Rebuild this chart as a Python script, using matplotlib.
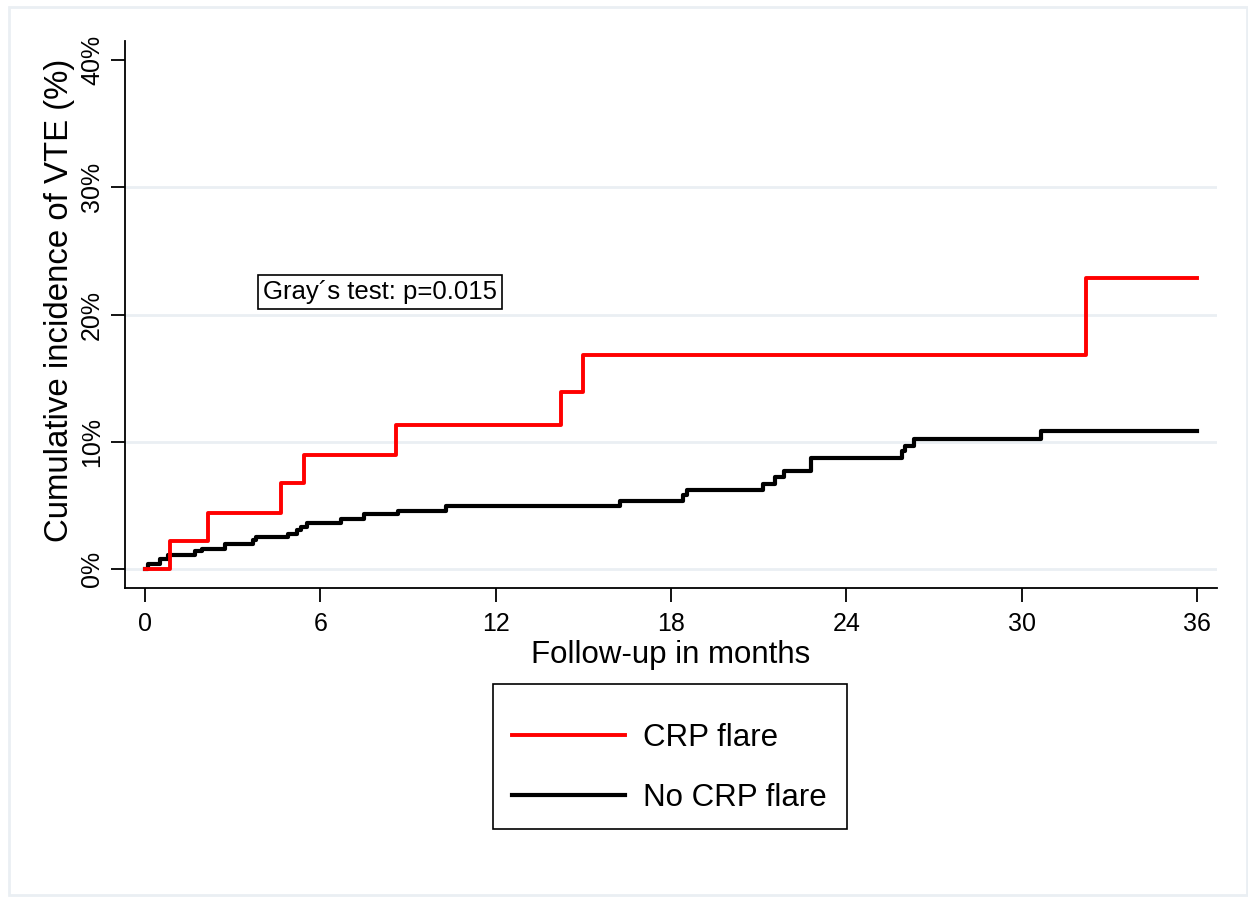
from matplotlib import pyplot as plt
from matplotlib.patches import Rectangle

# cumulative incidence steps (months, %)
crp_time = [0, 0.86, 2.16, 4.65, 5.44, 8.59, 14.24, 14.99, 32.2, 36]
crp_ci = [0, 2.2, 4.4, 6.8, 9.0, 11.3, 13.9, 16.8, 22.9, 22.9]

nocrp_time = [0, 0.1, 0.5, 0.8, 1.7, 1.95, 2.75, 3.7, 3.8, 4.9, 5.2, 5.35, 5.55,
              6.7, 7.5, 8.65, 10.3, 16.25, 18.4, 18.55, 21.15, 21.55, 21.85,
              22.8, 25.9, 26.0, 26.3, 30.65, 36]
nocrp_ci = [0, 0.4, 0.8, 1.1, 1.4, 1.6, 1.95, 2.3, 2.5, 2.75, 3.05, 3.3, 3.65,
            3.95, 4.3, 4.6, 4.95, 5.35, 5.8, 6.25, 6.7, 7.2, 7.7,
            8.7, 9.3, 9.7, 10.25, 10.85, 10.85]

x_ticks = [0, 6, 12, 18, 24, 30, 36]
y_ticks = [0, 10, 20, 30, 40]
y_tick_labels = ['0%', '10%', '20%', '30%', '40%']
series_labels = ['CRP flare', 'No CRP flare']
test_text = 'Gray´s test: p=0.015'

plt.rcParams['font.family'] = ['Liberation Sans', 'DejaVu Sans']

fig = plt.figure(figsize=(12.48, 8.99), dpi=100)
ax = fig.add_axes([0.1002, 0.3459, 0.875, 0.6085])

grid_col = '#eaeff3'
for yv in y_ticks[:-1]:
    ax.axhline(yv, color=grid_col, linewidth=2, zorder=0)

ax.plot(crp_time, crp_ci, drawstyle='steps-post', color='#ff0000',
        linewidth=2.8, label=series_labels[0], zorder=3)
ax.plot(nocrp_time, nocrp_ci, drawstyle='steps-post', color='black',
        linewidth=3.0, label=series_labels[1], zorder=2)

ax.set_xlim(-0.68, 36.68)
ax.set_ylim(-1.49, 41.5)
ax.set_xticks(x_ticks)
ax.set_xticklabels([str(t) for t in x_ticks], fontsize=18)
ax.set_yticks(y_ticks)
ax.set_yticklabels(y_tick_labels, fontsize=18, rotation=90, va='center')
ax.tick_params(axis='both', length=10, width=1.3, direction='out')
ax.tick_params(axis='x', pad=7)
ax.tick_params(axis='y', pad=5)

for s in ['top', 'right']:
    ax.spines[s].set_visible(False)
for s in ['left', 'bottom']:
    ax.spines[s].set_linewidth(1.3)

ax.set_xlabel('Follow-up in months', fontsize=22.5, labelpad=3)
ax.set_ylabel('Cumulative incidence of VTE (%)', fontsize=23.8)
ax.yaxis.set_label_coords(-0.0458, 0.526)

ax.text(8.04, 21.8, test_text, fontsize=18.5, ha='center', va='center',
        bbox=dict(boxstyle='square,pad=0.2', facecolor='white',
                  edgecolor='black', linewidth=1.2))

# legend without its own frame, box drawn separately
fig.legend(loc='center left', bbox_to_anchor=(512 / 1248, 1 - 768 / 899),
           fontsize=22.5, frameon=False, handlelength=3.6, handletextpad=0.58,
           labelspacing=0.95, borderpad=0, borderaxespad=0)
fig.patches.append(Rectangle((493 / 1248, 1 - 829 / 899), 354 / 1248, 145 / 899,
                             transform=fig.transFigure, fill=False,
                             edgecolor='black', linewidth=1.2))

fig.patches.append(Rectangle((0.0075, 0.005), 0.9915, 0.987, transform=fig.transFigure,
                             fill=False, edgecolor=grid_col, linewidth=2))

plt.savefig('out.png', dpi=100)
